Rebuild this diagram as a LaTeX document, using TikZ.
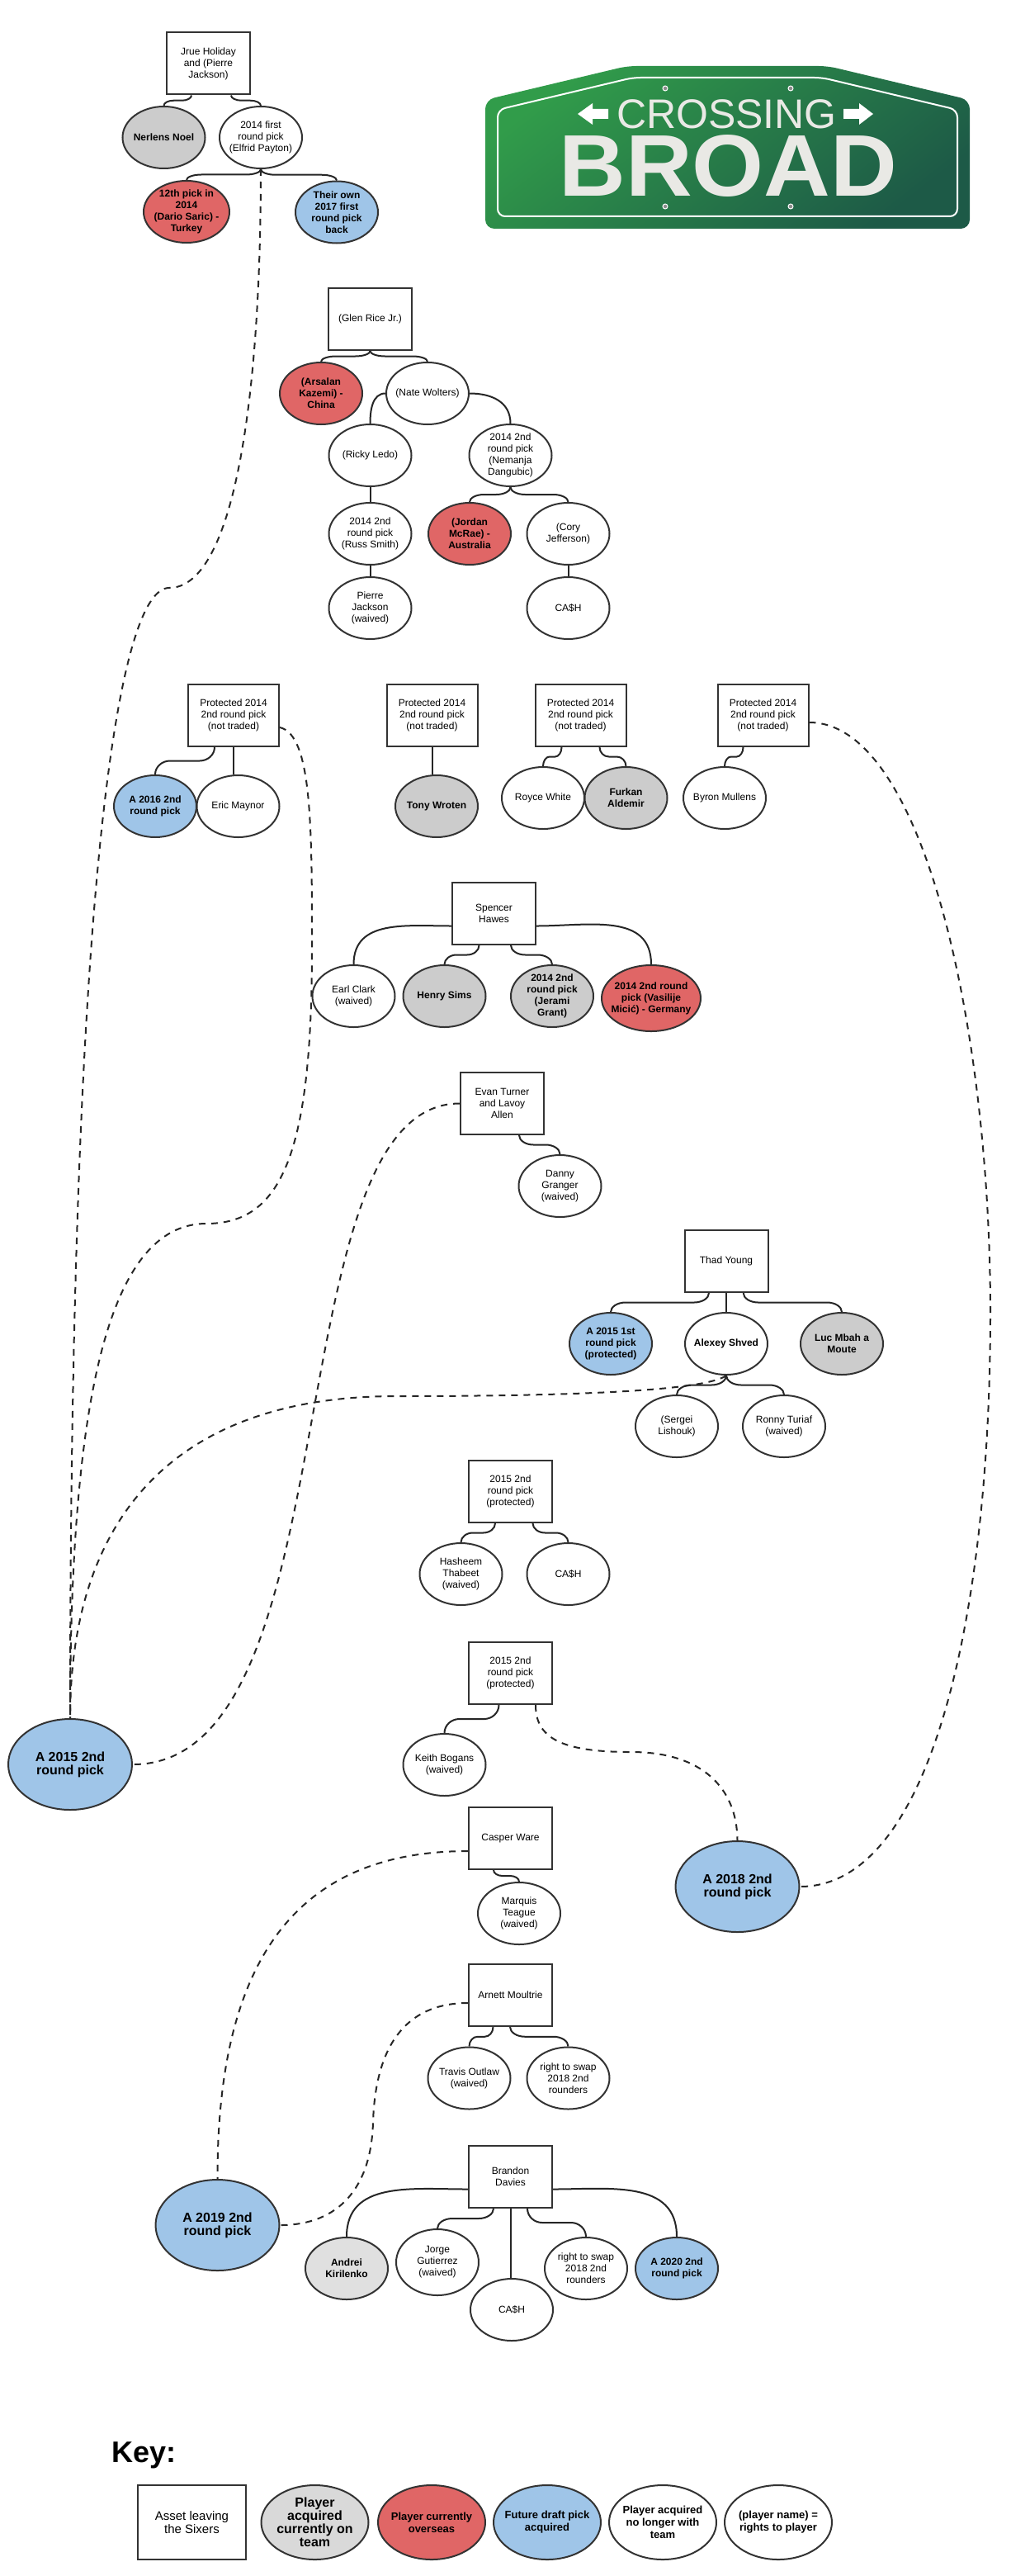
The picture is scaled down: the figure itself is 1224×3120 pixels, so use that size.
\documentclass[tikz,border=0pt]{standalone}
\usepackage{fontspec}
\usepackage{graphicx}
\setmainfont{Liberation Sans}
\usetikzlibrary{shapes.geometric,calc}
\definecolor{ln}{HTML}{333333}
\definecolor{cgray}{HTML}{CCCCCC}
\definecolor{clight}{HTML}{E0E0E0}
\definecolor{ckey}{HTML}{D9D9D9}
\definecolor{cred}{HTML}{E06666}
\definecolor{cblue}{HTML}{9FC5E8}
\definecolor{signa}{HTML}{319C4A}
\definecolor{signb}{HTML}{1D5A47}
\definecolor{signt}{HTML}{E9E9E5}
\newcommand{\txtn}{\fontsize{12}{14}\selectfont}
\newcommand{\txtb}{\fontsize{12}{14}\selectfont\bfseries}
\tikzset{
 assetbox/.style={rectangle,draw=ln,line width=2pt,fill=white,minimum width=101pt,minimum height=75pt,inner sep=0pt,align=center,font=\txtn},
 widebox/.style={assetbox,minimum width=110pt},
 oval/.style={ellipse,draw=ln,line width=2pt,fill=white,minimum width=100pt,minimum height=75pt,inner sep=-15pt,align=center,font=\txtn},
 boldtxt/.style={font=\txtb},
 fgray/.style={oval,fill=cgray,boldtxt},
 fred/.style={oval,fill=cred,boldtxt},
 fblue/.style={oval,fill=cblue,boldtxt},
 bigblue/.style={fblue,minimum width=150pt,minimum height=110pt,font=\fontsize{16}{16}\selectfont\bfseries},
 keyoval/.style={oval,minimum width=130pt,minimum height=90pt},
 conn/.style={draw=black!85,line width=2pt},
 sconn/.style={conn,to path={let \p1=(\tikztostart),\p2=(\tikztotarget),
    \n1={(\y1+\y2)/2},\n2={(\y2-\y1)*0.275},
    \n3={ifthenelse(\x2>\x1,1,-1)*min(abs(\x2-\x1)*0.35,18pt)} in
    (\p1) .. controls (\x1,\y1+\n2) and (\x1+0.45*\n3,\n1) .. (\x1+\n3,\n1)
    -- (\x2-\n3,\n1) .. controls (\x2-0.45*\n3,\n1) and (\x2,\y2-\n2) .. (\p2)}},
 dconn/.style={draw=black!85,line width=2pt,dash pattern=on 8pt off 7pt},
 signtxt/.style={text=signt,inner sep=0pt,anchor=base},
 rivet/.style={circle,draw=white,line width=1pt,fill=black!45,minimum size=6pt,inner sep=0pt},
}
\begin{document}
\begin{tikzpicture}[x=1pt,y=-1pt]
\useasboundingbox (0,0) rectangle (1224,3120);
\fill[white] (0,0) rectangle (1224,3120);

% sign
\shade[rounded corners=11pt,top color=signa,bottom color=signb,shading angle=38]
 (588,277) -- (588,121) -- (760,80) -- (1003,80) -- (1175,121) -- (1175,277) -- cycle;
\draw[white,line width=2pt,rounded corners=9pt]
 (603,262) -- (603,133) -- (767,94) -- (996,94) -- (1160,133) -- (1160,262) -- cycle;
\node[signtxt,font=\fontsize{50}{50}\selectfont] (crossing) at (880.5,156) {CROSSING};
\node[signtxt,font=\fontsize{106}{106}\selectfont\bfseries] (broad) at (882.5,238) {\scalebox{1.055}[1]{BROAD}};
\fill[white] (700,138) -- (718,125) -- (718,132) -- (737,132) -- (737,144) -- (718,144) -- (718,151) -- cycle;
\fill[white] (1058,138) -- (1041,125) -- (1041,132) -- (1022,132) -- (1022,144) -- (1041,144) -- (1041,151) -- cycle;
\foreach \n/\px/\py in {ra/806/107,rb/958/107,rc/806/250,rd/958/250}
 \node[rivet] (\n) at (\px,\py) {};

% nodes: group 1
\node[assetbox] (jrue) at (252.5,77) {Jrue Holiday\\and (Pierre\\Jackson)};
\node[fgray] (noel) at (198.5,166.5) {Nerlens Noel};
\node[oval] (first) at (316,166.5) {2014 first\\round pick\\(Elfrid Payton)};
\node[fred,minimum width=104pt] (saric) at (226,256.5) {12th pick in\\2014\\(Dario Saric) -\\Turkey};
\node[fblue] (own) at (408,257) {Their own\\2017 first\\round pick\\back};
% group 2
\node[assetbox] (glen) at (448.5,386.5) {(Glen Rice Jr.)};
\node[fred] (kazemi) at (389,476.5) {(Arsalan\\Kazemi) -\\China};
\node[oval] (nate) at (518,476.5) {(Nate Wolters)};
\node[oval] (ledo) at (448.5,551.5) {(Ricky Ledo)};
\node[oval] (nemanja) at (618.5,551.5) {2014 2nd\\round pick\\(Nemanja\\Dangubic)};
\node[oval] (russ) at (448.5,646.5) {2014 2nd\\round pick\\(Russ Smith)};
\node[fred] (mcrae) at (569,646.5) {(Jordan\\McRae) -\\Australia};
\node[oval] (cory) at (688.5,646.5) {(Cory\\Jefferson)};
\node[oval] (pierre) at (448.5,736.5) {Pierre\\Jackson\\(waived)};
\node[oval] (casha) at (688.5,736.5) {CA\$H};
% protected
\node[widebox] (pa) at (283,866.5) {Protected 2014\\2nd round pick\\(not traded)};
\node[fblue] (p2016) at (188,976.5) {A 2016 2nd\\round pick};
\node[oval] (eric) at (288.5,976.5) {Eric Maynor};
\node[widebox] (pb) at (523.5,866.5) {Protected 2014\\2nd round pick\\(not traded)};
\node[fgray] (tony) at (529,976.5) {Tony Wroten};
\node[widebox] (pc) at (703.5,866.5) {Protected 2014\\2nd round pick\\(not traded)};
\node[oval] (royce) at (658,966.5) {Royce White};
\node[fgray] (furkan) at (758.5,966.5) {Furkan\\Aldemir};
\node[widebox] (pd) at (924.5,866.5) {Protected 2014\\2nd round pick\\(not traded)};
\node[oval] (byron) at (878,966.5) {Byron Mullens};
% spencer
\node[assetbox] (spencer) at (598.5,1106.5) {Spencer\\Hawes};
\node[oval] (earl) at (428.5,1206.5) {Earl Clark\\(waived)};
\node[fgray] (sims) at (538.5,1206.5) {Henry Sims};
\node[fgray] (jerami) at (669,1206.5) {2014 2nd\\round pick\\(Jerami\\Grant)};
\node[fred,minimum width=120pt,minimum height=80pt] (micic) at (789,1209) {2014 2nd round\\pick (Vasilije\\Micić) - Germany};
% evan
\node[assetbox] (evan) at (608.5,1336.5) {Evan Turner\\and Lavoy\\Allen};
\node[oval] (danny) at (678.5,1436.5) {Danny\\Granger\\(waived)};
% thad
\node[assetbox] (thad) at (880,1527.5) {Thad Young};
\node[fblue] (t2015) at (740,1627.5) {A 2015 1st\\round pick\\(protected)};
\node[oval,boldtxt] (shved) at (880,1627.5) {Alexey Shved};
\node[fgray] (luc) at (1020,1627.5) {Luc Mbah a\\Moute};
\node[oval] (lishouk) at (820,1727.5) {(Sergei\\Lishouk)};
\node[oval] (ronny) at (950,1727.5) {Ronny Turiaf\\(waived)};
% 2015a
\node[assetbox] (pe) at (618.5,1806.5) {2015 2nd\\round pick\\(protected)};
\node[oval] (hasheem) at (558.5,1906.5) {Hasheem\\Thabeet\\(waived)};
\node[oval] (cashb) at (688.5,1906.5) {CA\$H};
% 2015b
\node[assetbox] (pf) at (618.5,2026.5) {2015 2nd\\round pick\\(protected)};
\node[oval] (keith) at (538.5,2137.5) {Keith Bogans\\(waived)};
\node[bigblue] (a2015) at (85,2137) {A 2015 2nd\\round pick};
\node[bigblue] (a2018) at (893.5,2285) {A 2018 2nd\\round pick};
% casper
\node[assetbox] (casper) at (618.5,2226.5) {Casper Ware};
\node[oval] (marquis) at (629,2317.5) {Marquis\\Teague\\(waived)};
% arnett
\node[assetbox] (arnett) at (618.5,2416.5) {Arnett Moultrie};
\node[oval] (travis) at (568.5,2517) {Travis Outlaw\\(waived)};
\node[oval] (swapa) at (688.5,2517) {right to swap\\2018 2nd\\rounders};
% brandon
\node[bigblue] (a2019) at (263.5,2695) {A 2019 2nd\\round pick};
\node[assetbox] (brandon) at (618.5,2636.5) {Brandon\\Davies};
\node[oval,boldtxt,fill=clight] (andrei) at (420,2747.5) {Andrei\\Kirilenko};
\node[oval,minimum height=80pt] (jorge) at (530,2740) {Jorge\\Gutierrez\\(waived)};
\node[oval] (cashc) at (620,2797.5) {CA\$H};
\node[oval] (swapb) at (710,2747.5) {right to swap\\2018 2nd\\rounders};
\node[fblue] (a2020) at (820,2747.5) {A 2020 2nd\\round pick};
% key
\node[anchor=base west,inner sep=0pt,font=\fontsize{36}{36}\selectfont\bfseries] (keyt) at (135,2982) {Key:};
\node[assetbox,minimum width=131pt,minimum height=90pt,font=\fontsize{15}{16}\selectfont] (ka) at (232.5,3055) {Asset leaving\\the Sixers};
\node[keyoval,fill=ckey,font=\fontsize{16}{16}\selectfont\bfseries] (kb) at (381.5,3055) {Player\\acquired\\currently on\\team};
\node[keyoval,fill=cred,font=\fontsize{13}{15}\selectfont\bfseries] (kc) at (523,3055) {Player currently\\overseas};
\node[keyoval,fill=cblue,font=\fontsize{13}{15}\selectfont\bfseries] (kd) at (663,3055) {Future draft pick\\acquired};
\node[keyoval,font=\fontsize{13}{15}\selectfont\bfseries] (ke) at (803,3055) {Player acquired\\no longer with\\team};
\node[keyoval,font=\fontsize{13}{15}\selectfont\bfseries] (kf) at (943,3055) {(player name) =\\rights to player};

% solid connectors
\coordinate (jl) at ([xshift=-20.5pt]jrue.south);
\coordinate (jr) at ([xshift=27.5pt]jrue.south);
\draw[sconn] (jl) to (noel.north);
\draw[sconn] (jr) to (first.north);
\draw[sconn] (first.south) to (saric.north);
\draw[sconn] (first.south) to (own.north);
\draw[sconn] (glen.south) to (kazemi.north);
\draw[sconn] (glen.south) to (nate.north);
\draw[conn] (nate.west) to[out=180,in=90] (ledo.north);
\draw[conn] (nate.east) to[out=0,in=90,looseness=1.1] (nemanja.north);
\draw[conn] (ledo.south) -- (russ.north);
\draw[conn] (russ.south) -- (pierre.north);
\draw[sconn] (nemanja.south) to (mcrae.north);
\draw[sconn] (nemanja.south) to (cory.north);
\draw[conn] (cory.south) -- (casha.north);
\coordinate (pal) at ([xshift=-23pt]pa.south);
\draw[sconn] (pal) to (p2016.north);
\draw[conn] (pa.south) -- (pa.south |- eric.north);
\draw[conn] (pb.south) -- (pb.south |- tony.north);
\coordinate (pcl) at ([xshift=-23pt]pc.south);
\coordinate (pcr) at ([xshift=23pt]pc.south);
\draw[sconn] (pcl) to (royce.north);
\draw[sconn] (pcr) to (furkan.north);
\coordinate (pdl) at ([xshift=-24pt]pd.south);
\draw[sconn] (pdl) to (byron.north);
\coordinate (spw) at ([yshift=-15pt]spencer.west);
\coordinate (spe) at ([yshift=-15pt]spencer.east);
\coordinate (spl) at ([xshift=-18pt]spencer.south);
\coordinate (spr) at ([xshift=20.5pt]spencer.south);
\draw[conn] (spw) to[out=180,in=90,looseness=1.1] (earl.north);
\draw[conn] (spe) to[out=0,in=90,looseness=1.1] (micic.north);
\draw[sconn] (spl) to (sims.north);
\draw[sconn] (spr) to (jerami.north);
\coordinate (evs) at ([xshift=20.5pt]evan.south);
\draw[sconn] (evs) to (danny.north);
\coordinate (thl) at ([xshift=-21pt]thad.south);
\coordinate (thr) at ([xshift=20.7pt]thad.south);
\draw[sconn] (thl) to (t2015.north);
\draw[conn] (thad.south) -- (shved.north);
\draw[sconn] (thr) to (luc.north);
\draw[sconn] (shved.south) to (lishouk.north);
\draw[sconn] (shved.south) to (ronny.north);
\coordinate (pel) at ([xshift=-18.5pt]pe.south);
\coordinate (per) at ([xshift=27pt]pe.south);
\draw[sconn] (pel) to (hasheem.north);
\draw[sconn] (per) to (cashb.north);
\coordinate (pfl) at ([xshift=-14pt]pf.south);
\coordinate (pfr) at ([xshift=30.5pt]pf.south);
\draw[sconn] (pfl) to (keith.north);
\coordinate (cas) at ([xshift=-20.5pt]casper.south);
\draw[sconn] (cas) to (marquis.north);
\coordinate (arl) at ([xshift=-21pt]arnett.south);
\coordinate (arr) at ([xshift=-0.5pt]arnett.south);
\draw[sconn] (arl) to (travis.north);
\draw[sconn] (arr) to (swapa.north);
\coordinate (brw) at ([yshift=-15pt]brandon.west);
\coordinate (bre) at ([yshift=-15pt]brandon.east);
\coordinate (brl) at ([xshift=-20.5pt]brandon.south);
\coordinate (brr) at ([xshift=20.5pt]brandon.south);
\draw[conn] (brw) to[out=180,in=90,looseness=1.1] (andrei.north);
\draw[conn] (bre) to[out=0,in=90,looseness=1.1] (a2020.north);
\draw[sconn] (brl) to (jorge.north);
\draw[conn] (brandon.south) -- (brandon.south |- cashc.north);
\draw[sconn] (brr) to (swapb.north);

% dashed connectors
\coordinate (pae) at ([yshift=-14.5pt]pa.east);
\coordinate (pde) at ([yshift=-8.5pt]pd.east);
\coordinate (caw) at ([yshift=-15.5pt]casper.west);
\coordinate (anw) at ([yshift=-9.5pt]arnett.west);
\draw[dconn] (first.south) .. controls (316,500) and (280,712) .. (205,712)
   .. controls (140,712) and (85,1100) .. (a2015.north);
\draw[dconn] (pae) .. controls (378,890) and (378,1000) .. (378,1150)
   .. controls (378,1400) and (340,1482) .. (250,1482)
   .. controls (130,1482) and (85,1700) .. (a2015.north);
\draw[dconn] (evan.west) .. controls (330,1336) and (430,2137) .. (a2015.east);
\draw[dconn] (shved.south) .. controls (860,1680) and (760,1691) .. (480,1691)
   .. controls (200,1691) and (85,1850) .. (a2015.north);
\draw[dconn] (pfr) .. controls (649,2105) and (680,2122) .. (765,2122)
   .. controls (850,2122) and (893,2165) .. (a2018.north);
\draw[dconn] (caw) .. controls (370,2242) and (263,2360) .. (a2019.north);
\draw[dconn] (anw) .. controls (490,2426) and (455,2480) .. (452,2570)
   .. controls (450,2650) and (410,2695) .. (a2019.east);
\draw[dconn] (pde) .. controls (1120,875) and (1200,1250) .. (1200,1590)
   .. controls (1200,1950) and (1130,2285) .. (a2018.east);
\end{tikzpicture}
\end{document}
